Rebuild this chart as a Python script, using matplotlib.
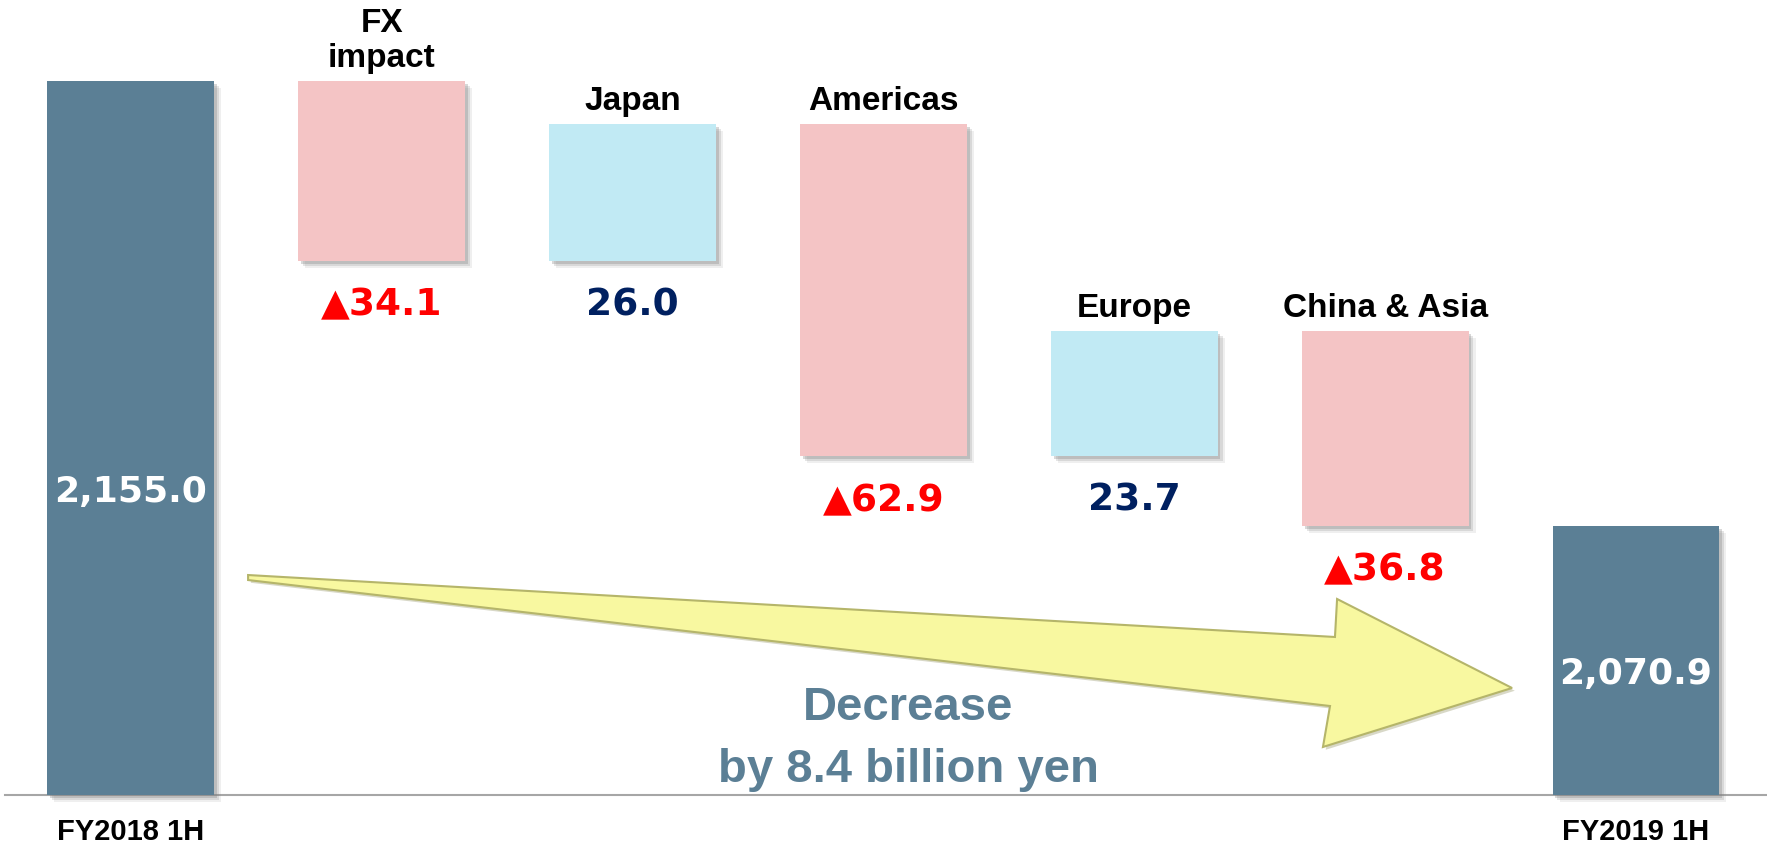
import matplotlib.pyplot as plt
import matplotlib.patheffects as pe
from matplotlib.patches import Polygon
import matplotlib.transforms as mtransforms

# data (billion yen)
categories = ['FY2018 1H', 'FX\nimpact', 'Japan', 'Americas', 'Europe', 'China & Asia', 'FY2019 1H']
start_value = 2155.0
deltas = [-34.1, 26.0, -62.9, 23.7, -36.8]
end_value = 2070.9
total_labels = ['2,155.0', '2,070.9']
note_lines = ['Decrease', 'by 8.4 billion yen']

base = 2020  # broken axis: bars start here
total_color = '#5B7F95'
neg_color = '#F4C4C5'
pos_color = '#C1EAF4'
# soft drop shadow
shadow = [pe.SimplePatchShadow(offset=(5, -5), shadow_rgbFace='#808080', alpha=0.12),
          pe.SimplePatchShadow(offset=(3.5, -3.5), shadow_rgbFace='#808080', alpha=0.2),
          pe.SimplePatchShadow(offset=(2, -2), shadow_rgbFace='#808080', alpha=0.3),
          pe.Normal()]

fig = plt.figure(figsize=(17.67, 8.5), dpi=100)
ax = fig.add_axes([0, 0, 1, 1])
ax.set_xlim(-0.521, 6.522)
ax.set_ylim(2009.6, 2170.3)
ax.axis('off')

width = 0.665
n = len(categories)
xlab = mtransforms.blended_transform_factory(ax.transData, ax.transAxes)

# total bars
for i, (val, lab, frac) in enumerate(zip([start_value, end_value], total_labels, [0.424, 0.45])):
    x = 0 if i == 0 else n - 1
    ax.bar(x, val - base, bottom=base, width=width, color=total_color, path_effects=shadow, zorder=3)
    ax.text(x, base + frac * (val - base), lab, ha='center', va='center', color='white',
            fontsize=26, fontweight='bold', family='DejaVu Sans', zorder=5)
    ax.text(x, 0.021, categories[x], transform=xlab,
            ha='center', va='center', fontsize=21, fontweight='bold', family='Liberation Sans')

# delta bars
level = start_value
for j, d in enumerate(deltas):
    x = j + 1
    new = level + d
    top, bot = max(level, new), min(level, new)
    ax.bar(x, top - bot, bottom=bot, width=width, color=pos_color if d > 0 else neg_color,
           path_effects=shadow, zorder=3)
    ax.annotate(categories[x], (x, top), xytext=(0, 5), textcoords='offset points',
                ha='center', va='bottom', fontsize=24, fontweight='bold', family='Liberation Sans',
                linespacing=1.15)
    txt = f'{abs(d):.1f}' if d > 0 else f'\u25b2{abs(d):.1f}'
    ax.annotate(txt, (x, bot), xytext=(0, -32), textcoords='offset points',
                ha='center', va='center', fontsize=27, fontweight='bold', family='DejaVu Sans',
                color='#002060' if d > 0 else '#FF0000')
    level = new

# baseline
ax.axhline(base, xmin=0.003, xmax=1, color='#A6A6A6', lw=1.5, zorder=2)

# tapered yellow arrow
arrow_pts = [(0.1404, 0.3235), (0.7555, 0.2506), (0.7567, 0.2953), (0.8557, 0.1906),
             (0.7487, 0.1212), (0.7527, 0.1694), (0.1404, 0.3176)]
arrow = Polygon(arrow_pts, closed=True, transform=ax.transAxes, facecolor='#F8F8A0',
                edgecolor='#B5B56A', lw=1.5, zorder=4,
                path_effects=[pe.SimplePatchShadow(offset=(2, -2), shadow_rgbFace='#909060', alpha=0.35),
                              pe.Normal()])
ax.add_patch(arrow)

ax.text(0.514, 0.167, note_lines[0], transform=ax.transAxes, ha='center', va='center',
        fontsize=34, fontweight='bold', color=total_color, family='Liberation Sans', zorder=5)
ax.text(0.514, 0.094, note_lines[1], transform=ax.transAxes, ha='center', va='center',
        fontsize=34, fontweight='bold', color=total_color, family='Liberation Sans', zorder=5)

fig.savefig('out.png', dpi=100, facecolor='white')
